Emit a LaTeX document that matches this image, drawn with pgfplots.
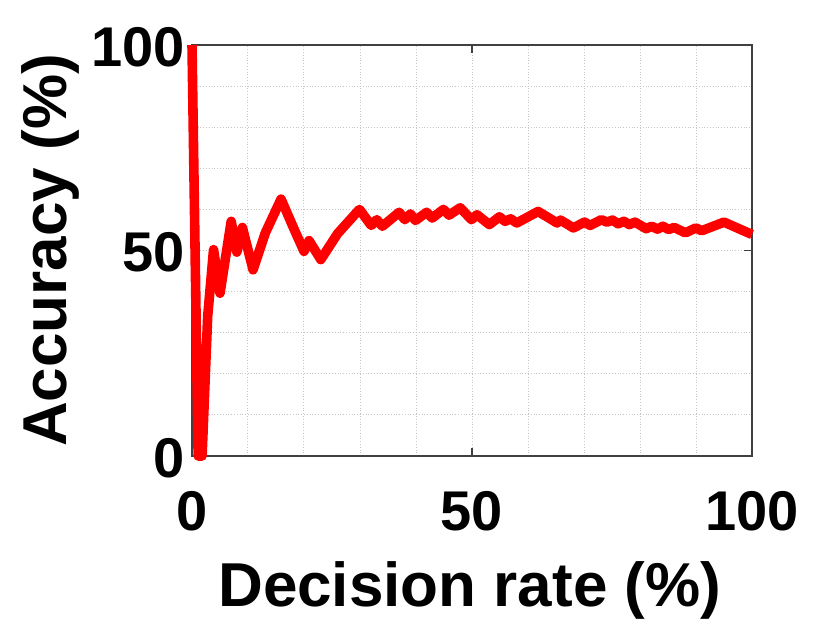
\documentclass[border=0pt]{standalone}
\usepackage{pgfplots}
\pgfplotsset{compat=1.18}
\usepackage{fontspec}
\setmainfont{Liberation Sans}
\begin{document}
\begin{tikzpicture}
\useasboundingbox (-96pt,-84pt) rectangle (319pt,228pt);
\begin{axis}[
  at={(0,0)}, anchor=south west,
  scale only axis, width=280pt, height=205.5pt,
  xmin=0, xmax=100, ymin=0, ymax=100,
  xtick={0,50,100}, ytick={0,50,100},
  minor tick num=4,
  grid=both,
  major grid style={densely dotted, gray!45, line width=0.5pt},
  minor grid style={densely dotted, gray!45, line width=0.5pt},
  minor tick style={draw=none},
  major tick length=4pt,
  tick style={black!75, line width=0.6pt},
  axis line style={black!75, line width=0.6pt},
  tick align=inside,
  /pgf/number format/assume math mode=true,
  tick label style={font=\fontsize{28}{30}\selectfont\bfseries},
  xticklabel style={yshift=-14pt},
  yticklabel style={xshift=0pt, yshift=-1pt},
  xlabel={Decision rate (\%)},
  ylabel={Accuracy (\%)},
  every axis x label/.style={at={(axis description cs:0.496,-0.326)}, anchor=center, font=\fontsize{31}{34}\selectfont\bfseries},
  every axis y label/.style={at={(axis description cs:-0.2536,0.5)}, rotate=90, anchor=center, font=\fontsize{31}{34}\selectfont\bfseries},
  clip=false,
]
\addplot[red, line width=4.8pt, line join=round] coordinates {
(0,100) (1.1,0) (1.8,0) (2.8,34) (3.85,50.2) (5.0,39.6) (7.0,57.1) (8.0,49.6) (9.0,55.6)
(10.9,45.3) (13.1,54.3) (15.9,62.5) (18.0,55.9) (20.0,49.8) (20.9,52.4) (23.0,47.8)
(26.0,54.1) (29.9,60.0) (32.0,56.1) (33.0,57.5) (34.0,55.9) (37.0,59.3) (38.0,57.5)
(39.0,58.9) (39.9,57.3) (41.9,59.3) (42.9,57.9) (44.9,60.0) (45.9,58.6) (47.9,60.4)
(49.9,57.5) (50.9,58.7) (53.1,56.3) (54.9,58.2) (55.9,57.1) (56.9,57.7) (58.0,56.7)
(61.8,59.5) (65.2,56.7) (65.8,57.4) (68.1,55.5) (70.1,56.9) (71.1,56.1) (73.1,57.5)
(74.1,56.9) (75.1,57.4) (76.1,56.5) (77.1,57.1) (78.1,56.3) (79.1,56.9) (81.1,55.3)
(82.1,55.9) (83.1,55.2) (84.1,55.9) (85.1,55.1) (86.1,55.6) (88.1,54.3) (90.0,55.5)
(91.0,54.8) (95.0,56.9) (100,53.9)
};
\end{axis}
\end{tikzpicture}
\end{document}
